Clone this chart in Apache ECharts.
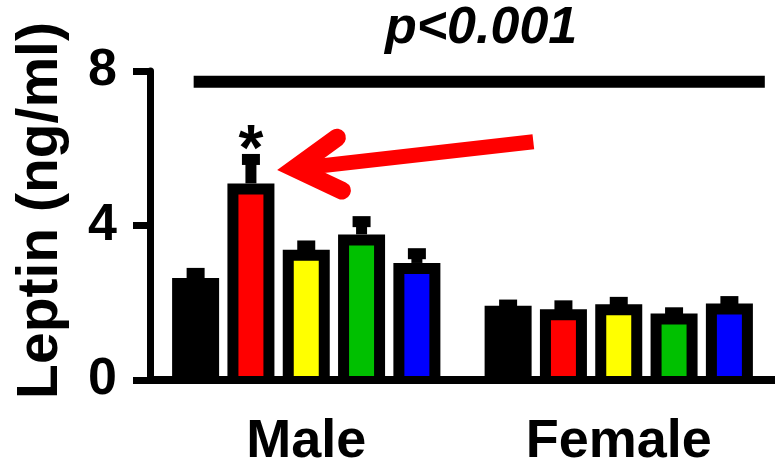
<!DOCTYPE html>
<html>
<head>
<meta charset="utf-8">
<script src="https://cdn.jsdelivr.net/npm/echarts@6/dist/echarts.min.js"></script>
<style>html,body{margin:0;padding:0;background:#fff;}#chart{width:775px;height:469px;}</style>
</head>
<body>
<div id="chart"></div>
<script>
// ---- data ----
const categories = ['Male', 'Female'];
const groupNames = ['Group 1', 'Group 2', 'Group 3', 'Group 4', 'Group 5'];
const meanG1 = [2.64, 1.92];
const meanG2 = [5.09, 1.83];
const meanG3 = [3.37, 1.96];
const meanG4 = [3.77, 1.72];
const meanG5 = [3.03, 1.98];
const semG1 = [0.12, 0.02];
const semG2 = [0.62, 0.09];
const semG3 = [0.10, 0.05];
const semG4 = [0.33, 0.02];
const semG5 = [0.24, 0.05];
const yTicks = [0, 4, 8];
const yAxisTitle = 'Leptin (ng/ml)';
const pValueText = 'p<0.001';
const significanceMark = '*';
const significantBar = [0, 1]; // [category index, group index]
const pLineValue = 7.72;

// ---- styles ----
const palette = ['#000000', '#ff0000', '#ffff00', '#00c000', '#0000ff'];
const FONT = '"Liberation Sans", Arial, Helvetica, sans-serif';
const BAR_W = 47, BAR_GAP = 0.177, BORDER = 11;
const STEP = BAR_W * (1 + BAR_GAP);

const means = [meanG1, meanG2, meanG3, meanG4, meanG5];
const sems = [semG1, semG2, semG3, semG4, semG5];

const errData = [];
for (let g = 0; g < means.length; g++) {
  for (let c = 0; c < categories.length; c++) {
    errData.push([c, g, means[g][c], means[g][c] + sems[g][c]]);
  }
}

const chart = echarts.init(document.getElementById('chart'), null, {renderer: 'canvas'});

const barSeries = means.map((m, g) => ({
  name: groupNames[g],
  type: 'bar',
  data: m,
  barWidth: BAR_W,
  barGap: (BAR_GAP * 100) + '%',
  z: 2,
  itemStyle: {color: palette[g], borderColor: '#000', borderWidth: BORDER},
  emphasis: {disabled: true}
}));

const errSeries = {
  type: 'custom',
  z: 3,
  data: errData,
  encode: {x: 0, y: 3},
  renderItem: function (params, api) {
    const c = api.value(0), g = api.value(1);
    const center = api.coord([c, 0]);
    const x = center[0] + (g - (means.length - 1) / 2) * STEP;
    const yMean = api.coord([c, api.value(2)])[1];
    const yUp = api.coord([c, api.value(3)])[1];
    const inner = BAR_W - 2 * BORDER;
    const children = [
      // fill colour down to the baseline (bottom border hidden behind the axis in the original)
      {type: 'rect', shape: {x: x - inner / 2, y: center[1] - BORDER, width: inner, height: BORDER}, style: {fill: palette[g]}},
      {type: 'rect', shape: {x: x - 5.5, y: yUp, width: 11, height: Math.max(0, yMean - yUp)}, style: {fill: '#000'}},
      {type: 'rect', shape: {x: x - 9, y: yUp - 5.5, width: 18, height: 11}, style: {fill: '#000'}}
    ];
    if (c === significantBar[0] && g === significantBar[1]) {
      children.push({type: 'text', x: x, y: yUp - 7, style: {text: significanceMark, fill: '#000',
        font: 'bold 64px ' + FONT, align: 'center', verticalAlign: 'middle'}});
    }
    return {type: 'group', children: children};
  }
};

chart.setOption({
  animation: false,
  backgroundColor: '#fff',
  grid: {left: 150, right: 0, top: 71, bottom: 86},
  xAxis: {
    type: 'category',
    data: categories,
    z: 10,
    axisLine: {lineStyle: {color: '#000', width: 8}},
    axisTick: {show: false},
    axisLabel: {color: '#000', fontSize: 54, fontWeight: 'bold', fontFamily: FONT, margin: 35}
  },
  yAxis: {
    type: 'value',
    min: yTicks[0], max: yTicks[yTicks.length - 1], interval: yTicks[1] - yTicks[0],
    z: 10,
    name: yAxisTitle,
    nameLocation: 'middle',
    nameGap: 80,
    nameRotate: 90,
    nameTextStyle: {color: '#000', fontSize: 57, fontWeight: 'bold', fontFamily: FONT, padding: [0, 0, 0, 30]},
    axisLine: {show: true, lineStyle: {color: '#000', width: 7}},
    axisTick: {show: true, inside: false, length: 17, lineStyle: {color: '#000', width: 7}},
    splitLine: {show: false},
    axisLabel: {color: '#000', fontSize: 52, fontWeight: 'bold', fontFamily: FONT, margin: 33, padding: [10, 0, 0, 0]}
  },
  series: barSeries.concat([errSeries])
});

// annotation positions in (category position, value) space
function toPx(catPos, val) {
  const a = chart.convertToPixel({gridIndex: 0}, [categories[0], val]);
  const b = chart.convertToPixel({gridIndex: 0}, [categories[1], val]);
  return [a[0] + (b[0] - a[0]) * catPos, a[1]];
}
const pLineL = toPx(-0.3603, pLineValue), pLineR = toPx(1.4674, pLineValue);
const pText = toPx(0.5595, 9.10);
const arrowV = toPx(-0.0368, 5.479), arrowW1 = toPx(0.0981, 6.274), arrowW2 = toPx(0.1141, 4.905);
const arrowS = toPx(0.7267, 6.167);

chart.setOption({
  graphic: [
    {type: 'line', shape: {x1: pLineL[0], y1: pLineL[1], x2: pLineR[0], y2: pLineR[1]},
      style: {stroke: '#000', lineWidth: 12}},
    {type: 'text', x: pText[0], y: pText[1],
      style: {text: pValueText, fill: '#000', font: 'italic bold 52px ' + FONT, align: 'center', verticalAlign: 'middle'}},
    {type: 'line', shape: {x1: arrowS[0], y1: arrowS[1], x2: arrowV[0] + 4, y2: arrowV[1]},
      style: {stroke: '#ff0000', lineWidth: 15, lineCap: 'butt'}},
    {type: 'polyline', shape: {points: [arrowW1, arrowV, arrowW2]},
      style: {stroke: '#ff0000', fill: null, lineWidth: 18, lineCap: 'round', lineJoin: 'miter', miterLimit: 10}}
  ]
});
</script>
</body>
</html>
